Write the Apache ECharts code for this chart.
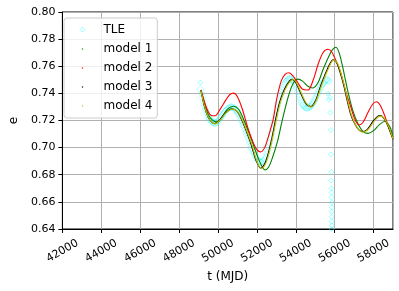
<!DOCTYPE html>
<html>
<head>
<meta charset="utf-8">
<script src="https://cdn.jsdelivr.net/npm/echarts@6/dist/echarts.min.js"></script>
<style>html,body{margin:0;padding:0;background:#fff}#c{width:399px;height:291px}</style>
</head>
<body>
<div id="c"></div>
<script>
// Tick labels
var xTicks = [42000, 44000, 46000, 48000, 50000, 52000, 54000, 56000, 58000];
var yTicks = [0.64, 0.66, 0.68, 0.70, 0.72, 0.74, 0.76, 0.78, 0.80];

// TLE observations [MJD, e] : dense band
var tleBand = [
  [49100,0.743],[49150,0.740],[49200,0.737],[49250,0.734],[49300,0.731],[49350,0.7285],[49400,0.7265],
  [49450,0.7245],[49500,0.723],[49550,0.7215],[49600,0.7205],[49650,0.7195],[49700,0.719],[49750,0.7185],
  [49800,0.7182],[49850,0.718],[49900,0.7182],[49950,0.7187],[50000,0.7195],[50050,0.7205],[50100,0.7215],
  [50150,0.7225],[50200,0.7235],[50250,0.7245],[50300,0.7255],[50350,0.7265],[50400,0.7273],[50450,0.728],
  [50500,0.7287],[50550,0.7292],[50600,0.7296],[50650,0.7298],[50700,0.7299],[50750,0.7298],[50800,0.7295],
  [50850,0.729],[50900,0.7282],[50950,0.7273],[51000,0.7262],[51050,0.725],[51100,0.7237],[51150,0.7222],
  [51200,0.7206],[51250,0.719],[51300,0.7172],[51350,0.7154],[51400,0.7135],[51450,0.7115],[51500,0.7095],
  [51550,0.7075],[51600,0.7055],[51650,0.7035],[51700,0.7015],[51750,0.6995],[51800,0.6977],[51850,0.696],
  [51900,0.6945],[51950,0.693],[52000,0.6918],[52050,0.6908],[52100,0.69],[52150,0.6895],[52200,0.6893],
  [52250,0.6893],[52300,0.6897],[52350,0.6905],[52400,0.6917],[52450,0.6933],[52500,0.6953],[52550,0.6977],
  [52600,0.7005],[52650,0.7035],[52700,0.7068],[52750,0.7102],[52800,0.7138],[52850,0.7173],[52900,0.7208],
  [52950,0.7242],[53000,0.7275],[53050,0.7305],[53100,0.7333],[53150,0.736],[53200,0.7385],[53250,0.7408],
  [53300,0.7428],[53350,0.7446],[53400,0.7462],[53450,0.7475],[53500,0.7486],[53550,0.7495],[53600,0.7502],
  [53650,0.7506],[53700,0.7508],[53750,0.7507],[53800,0.7503],[53850,0.7496],[53900,0.7486],[53950,0.7472],
  [54000,0.7455],[54050,0.7436],[54100,0.7415],[54150,0.7393],[54200,0.737],[54250,0.7348],[54300,0.7332],
  [54350,0.7318],[54400,0.7308],[54450,0.730],[54500,0.7295],[54550,0.7292],[54600,0.7294],[54650,0.7298],
  [54700,0.7298],[54750,0.7302],[54800,0.731],[54850,0.732],[54900,0.7332],[54950,0.7345],[55000,0.736],
  [55050,0.7375],[55100,0.739],[55150,0.7405],[55200,0.742],[55250,0.7435],[55300,0.745],[55350,0.7463],
  [55400,0.7475],[55450,0.7485],[55500,0.7493],[55550,0.7498],[55600,0.750],[55650,0.7497],[55700,0.749]
];
// TLE observations [MJD, e] : isolated points
var tleSparse = [
  [49100,0.748],[55650,0.740],[55700,0.7355],[55750,0.737],[55780,0.7258],[55800,0.713],[55800,0.695],
  [55820,0.682],[55820,0.6756],[55830,0.670],[55840,0.6668],[55840,0.6633],[55850,0.6594],[55850,0.656],
  [55850,0.6528],[55850,0.649],[55850,0.6454],[55850,0.6425],[55850,0.640]
];

// model 1 (green)
var model1 = [
  [49126,0.7425],[49300,0.733],[49500,0.7245],[49700,0.7205],[49940,0.719],[50200,0.7225],[50500,0.7285],
  [50800,0.7305],[51050,0.7285],[51300,0.7215],[51550,0.7125],[51800,0.703],[52050,0.693],[52250,0.6865],
  [52420,0.6835],[52600,0.6855],[52800,0.6925],[53050,0.704],[53310,0.7204],[53615,0.7376],[53870,0.7475],
  [54120,0.7505],[54350,0.749],[54600,0.7455],[54886,0.744],[55150,0.748],[55393,0.7572],[55730,0.7683],
  [55900,0.7725],[56070,0.774],[56250,0.769],[56450,0.757],[56663,0.7425],[56900,0.729],[57170,0.7185],
  [57450,0.712],[57720,0.7105],[58000,0.7125],[58300,0.717],[58600,0.7195],[58850,0.715],[59000,0.708]
];
// model 2 (red)
var model2 = [
  [49126,0.7425],[49300,0.734],[49500,0.7265],[49700,0.7235],[49857,0.7235],[50100,0.728],[50400,0.735],
  [50600,0.739],[50800,0.7402],[51000,0.7375],[51250,0.7285],[51550,0.714],[51818,0.7035],[52000,0.6985],
  [52200,0.6968],[52400,0.700],[52600,0.7085],[52834,0.7204],[53022,0.736],[53250,0.749],[53450,0.754],
  [53650,0.7552],[53850,0.753],[54100,0.748],[54350,0.743],[54630,0.7425],[54900,0.750],[55150,0.7615],
  [55400,0.770],[55650,0.7725],[55850,0.7705],[56100,0.763],[56323,0.7548],[56600,0.740],[56831,0.730],
  [57050,0.7205],[57250,0.7167],[57450,0.7185],[57700,0.7255],[57950,0.732],[58150,0.7338],[58350,0.731],
  [58600,0.7225],[58800,0.714],[59000,0.7065]
];
// model 3 (black)
var model3 = [
  [49126,0.742],[49290,0.731],[49490,0.7225],[49690,0.7186],[49830,0.7177],[50080,0.720],[50380,0.7256],
  [50720,0.7287],[50980,0.7267],[51220,0.7205],[51470,0.7115],[51700,0.7025],[51960,0.6905],[52200,0.6848],
  [52390,0.6877],[52560,0.6945],[52760,0.706],[52960,0.7205],[53160,0.733],[53400,0.7425],[53660,0.7488],
  [53830,0.7503],[54010,0.7477],[54250,0.7402],[54510,0.7328],[54770,0.7302],[55020,0.7347],[55270,0.7452],
  [55610,0.7575],[55920,0.7648],[56120,0.7622],[56290,0.755],[56470,0.7458],[56630,0.7355],[56820,0.7248],
  [56970,0.7195],[57170,0.7143],[57400,0.7118],[57670,0.7133],[57980,0.7195],[58220,0.7232],[58370,0.7236],
  [58570,0.7208],[58740,0.716],[59000,0.7062]
];
// model 4 (yellow)
var model4 = [
  [49126,0.742],[49300,0.731],[49500,0.7225],[49700,0.7185],[49850,0.7176],[50100,0.720],[50400,0.7255],
  [50750,0.7285],[51000,0.7265],[51250,0.7204],[51500,0.7115],[51736,0.7025],[52000,0.690],[52243,0.6845],
  [52430,0.6875],[52600,0.6945],[52800,0.7065],[53000,0.7204],[53200,0.733],[53445,0.7425],[53700,0.7486],
  [53870,0.7502],[54050,0.7475],[54290,0.740],[54545,0.7327],[54800,0.730],[55050,0.7345],[55307,0.745],
  [55645,0.7572],[55950,0.7646],[56150,0.762],[56323,0.7548],[56500,0.7455],[56663,0.7351],[56850,0.7245],
  [57000,0.7191],[57200,0.714],[57430,0.7115],[57700,0.713],[58014,0.7191],[58250,0.7228],[58400,0.7232],
  [58600,0.7205],[58777,0.7154],[59000,0.7065]
];

var seriesNames = ['TLE', 'model 1', 'model 2', 'model 3', 'model 4'];
var modelColors = ['#008000', '#ff0000', '#000000', '#bfbf00'];
var tleColor = 'rgba(40,245,245,0.4)';
var tleLegendColor = 'rgba(0,255,255,0.5)';

var FONT = 'DejaVu Sans';
var chart = echarts.init(document.getElementById('c'), null, {renderer: 'canvas'});

var diamondIcon = 'path://M0,0 M32,14 M16,4.5 L18.5,7 L16,9.5 L13.5,7 Z';
var dotIcon = 'path://M0,0 M32,14 M15.4,6.4 L16.6,6.4 L16.6,7.6 L15.4,7.6 Z';

function lineSeries(name, data, color) {
  return {
    name: name, type: 'line', data: data, smooth: 0.3,
    showSymbol: false, symbol: 'none',
    lineStyle: {color: color, width: 1.1},
    itemStyle: {color: color},
    animation: false, z: 3
  };
}

chart.setOption({
  animation: false,
  backgroundColor: '#ffffff',
  grid: {left: 58, right: 6, top: 12, bottom: 62, show: true, borderColor: '#000', borderWidth: 1, backgroundColor: 'transparent'},
  legend: {
    orient: 'vertical', left: 64, top: 18,
    padding: [4, 5, 5, 2],
    itemWidth: 32, itemHeight: 14, itemGap: 5,
    borderColor: '#cccccc', borderWidth: 1, borderRadius: 3,
    backgroundColor: 'rgba(255,255,255,0.8)',
    textStyle: {fontFamily: FONT, fontSize: 12, color: '#000'},
    data: [
      {name: seriesNames[0], icon: diamondIcon, itemStyle: {color: 'transparent', borderColor: tleLegendColor, borderWidth: 1}},
      {name: seriesNames[1], icon: dotIcon, itemStyle: {color: modelColors[0], borderWidth: 0}},
      {name: seriesNames[2], icon: dotIcon, itemStyle: {color: modelColors[1], borderWidth: 0}},
      {name: seriesNames[3], icon: dotIcon, itemStyle: {color: modelColors[2], borderWidth: 0}},
      {name: seriesNames[4], icon: dotIcon, itemStyle: {color: modelColors[3], borderWidth: 0}}
    ]
  },
  xAxis: {
    type: 'value', min: xTicks[0], max: 59000, interval: 2000,
    name: 't (MJD)', nameLocation: 'middle', nameGap: 41,
    nameTextStyle: {fontFamily: FONT, fontSize: 12, color: '#000'},
    axisLine: {onZero: false, lineStyle: {color: '#000', width: 1}},
    axisTick: {show: true, inside: false, length: 4, lineStyle: {color: '#000'}},
    axisLabel: {
      fontFamily: FONT, fontSize: 11, color: '#000', rotate: 30,
      align: 'center', verticalAlign: 'middle', margin: 22,
      showMaxLabel: false,
      formatter: function (v) { return xTicks.indexOf(v) >= 0 ? String(v) : ''; }
    },
    splitLine: {show: true, lineStyle: {color: '#b0b0b0', width: 1}}
  },
  yAxis: {
    type: 'value', min: yTicks[0], max: yTicks[yTicks.length - 1], interval: 0.02,
    name: 'e', nameLocation: 'middle', nameGap: 38, nameRotate: 90,
    nameTextStyle: {fontFamily: FONT, fontSize: 12, color: '#000'},
    axisLine: {onZero: false, lineStyle: {color: '#000', width: 1}},
    axisTick: {show: true, inside: false, length: 4, lineStyle: {color: '#000'}},
    axisLabel: {
      fontFamily: FONT, fontSize: 11, color: '#000', margin: 7,
      formatter: function (v) { return v.toFixed(2); }
    },
    splitLine: {show: true, lineStyle: {color: '#b0b0b0', width: 1}}
  },
  series: [
    {
      name: seriesNames[0], type: 'scatter', data: tleBand, symbol: 'diamond', symbolSize: 7,
      itemStyle: {color: 'transparent', borderColor: tleColor, borderWidth: 1},
      animation: false, z: 2
    },
    {
      name: seriesNames[0], type: 'scatter', data: tleSparse, symbol: 'diamond', symbolSize: 5,
      itemStyle: {color: 'transparent', borderColor: tleLegendColor, borderWidth: 1},
      animation: false, z: 2
    },
    lineSeries(seriesNames[1], model1, modelColors[0]),
    lineSeries(seriesNames[2], model2, modelColors[1]),
    lineSeries(seriesNames[3], model3, modelColors[2]),
    lineSeries(seriesNames[4], model4, modelColors[3])
  ]
});
</script>
</body>
</html>
